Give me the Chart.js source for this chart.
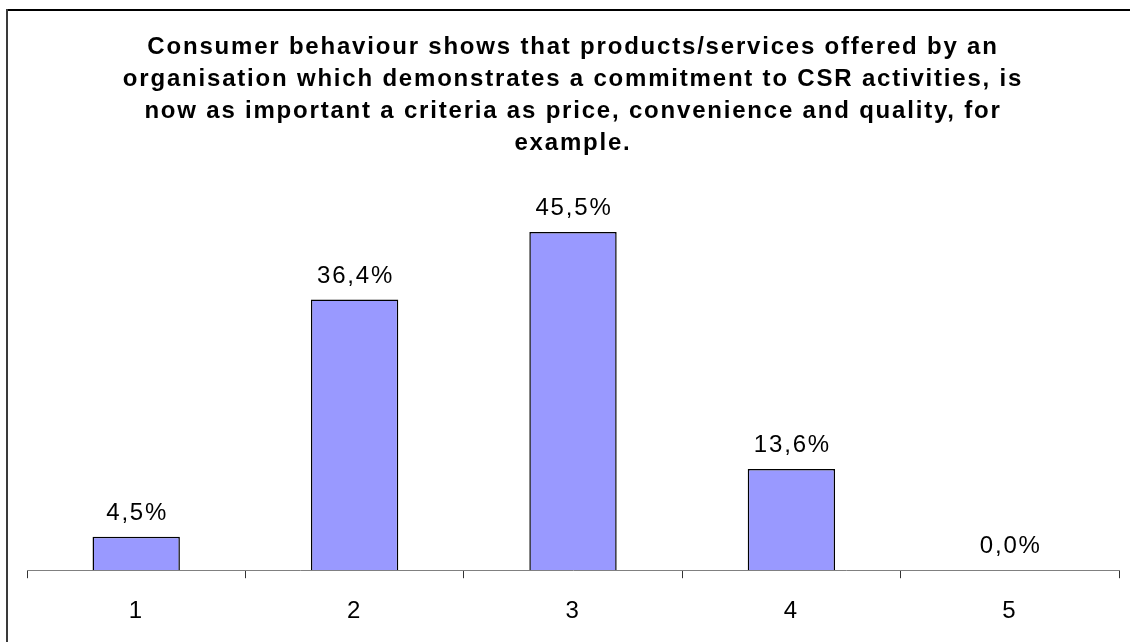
<!DOCTYPE html>
<html>
<head>
<meta charset="utf-8">
<script src="https://cdn.jsdelivr.net/npm/chart.js@4.4.0/dist/chart.umd.min.js"></script>
<style>
  html, body { margin: 0; padding: 0; background: #fff; overflow: hidden; }
  #wrap { position: relative; width: 1130px; height: 642px; }
</style>
</head>
<body>
<div id="wrap"><canvas id="grafico" width="1130" height="642"></canvas></div>
<script>
// respuestas por puntuacion (1..5), en porcentaje
var categorias = ['1', '2', '3', '4', '5'];
var porcentajes = [4.5, 36.4, 45.5, 13.6, 0.0];
var titulo = [
  'Consumer behaviour shows that products/services offered by an',
  'organisation which demonstrates a commitment to CSR activities, is',
  'now as important a criteria as price, convenience and quality, for',
  'example.'
];

var fuente = "'Liberation Sans', Arial, sans-serif";

function formato(v) {
  return v.toFixed(1).replace('.', ',') + '%';
}

// espaciado de letras ancho, se pone antes de medir y antes de pintar
var espaciado = {
  id: 'espaciado',
  beforeUpdate: function (chart) { chart.ctx.letterSpacing = '1.8px'; },
  beforeDraw: function (chart) { chart.ctx.letterSpacing = '1.8px'; }
};

// marco de arriba e izquierda
var marco = {
  id: 'marco',
  beforeDraw: function (chart) {
    var ctx = chart.ctx;
    ctx.save();
    ctx.fillStyle = '#000';
    ctx.fillRect(6, 9, chart.width - 6, 2);
    ctx.fillStyle = '#3a3a3a';
    ctx.fillRect(6, 9, 2, chart.height - 9);
    ctx.restore();
  }
};

// etiquetas con el valor encima de cada barra
var etiquetas = {
  id: 'etiquetas',
  afterDatasetsDraw: function (chart) {
    var ctx = chart.ctx;
    var meta = chart.getDatasetMeta(0);
    ctx.save();
    ctx.font = '24px ' + fuente;
    ctx.fillStyle = '#000';
    ctx.textAlign = 'center';
    ctx.textBaseline = 'alphabetic';
    meta.data.forEach(function (barra, i) {
      ctx.fillText(formato(porcentajes[i]), barra.x + 1, barra.y - 17);
    });
    ctx.restore();
  }
};

var graficoBarras = new Chart(document.getElementById('grafico'), {
  type: 'bar',
  data: {
    labels: categorias,
    datasets: [{
      data: porcentajes,
      backgroundColor: '#9999ff',
      borderColor: '#000',
      borderWidth: 1.5,
      borderSkipped: 'bottom',
      barPercentage: 0.4,
      categoryPercentage: 1
    }]
  },
  options: {
    responsive: false,
    animation: false,
    layout: { padding: { left: 27, right: 11, top: 31, bottom: -3 } },
    plugins: {
      legend: { display: false },
      tooltip: { enabled: false },
      title: {
        display: true,
        text: titulo,
        color: '#000',
        font: { family: fuente, size: 24, weight: 'bold', lineHeight: 32 / 24 },
        padding: { top: 0, bottom: 39.5 }
      }
    },
    scales: {
      x: {
        grid: {
          offset: true,
          drawOnChartArea: false,
          drawTicks: true,
          tickLength: 8,
          color: '#333'
        },
        border: { display: true, color: '#808080', width: 1 },
        ticks: {
          color: '#000',
          padding: 19,
          font: { family: fuente, size: 24 }
        }
      },
      y: {
        display: false,
        min: 0,
        max: 50
      }
    }
  },
  plugins: [espaciado, marco, etiquetas]
});
</script>
</body>
</html>
